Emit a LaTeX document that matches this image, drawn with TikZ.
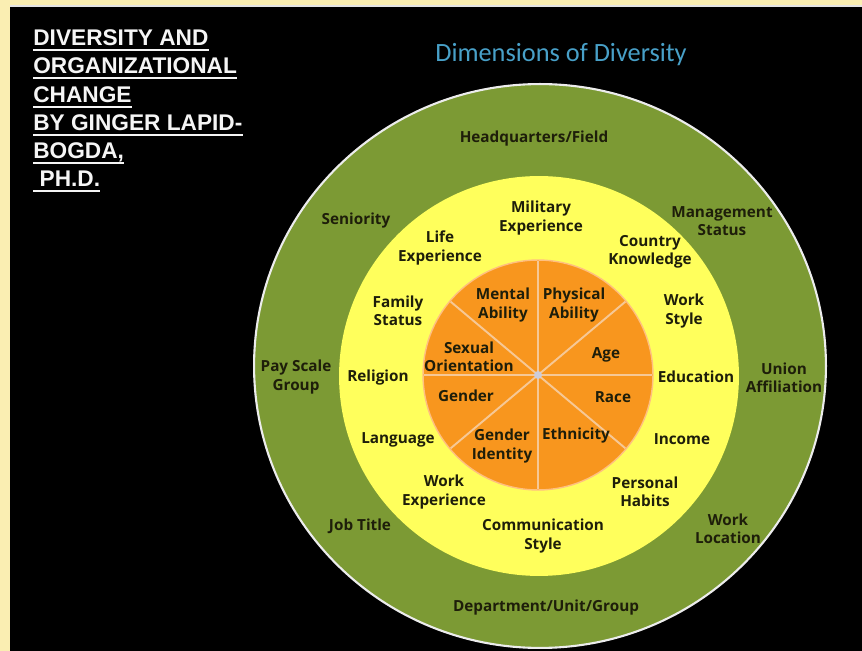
\documentclass[tikz,border=0pt]{standalone}
\usepackage{fontspec}
\usepackage{xcolor}
\usetikzlibrary{calc}

\newfontfamily\labelfont{Open Sans}
\newfontfamily\titlefont{Liberation Sans}
\newfontfamily\headfont{Carlito}

\definecolor{paper}{RGB}{250,238,178}
\definecolor{ringgreen}{RGB}{124,154,52}
\definecolor{ringyellow}{RGB}{255,255,92}
\definecolor{coreorange}{RGB}{248,150,30}
\definecolor{spokecol}{RGB}{246,200,150}
\definecolor{labeltext}{RGB}{30,30,10}
\definecolor{headblue}{RGB}{72,160,200}

\tikzset{
  dim/.style={font=\labelfont\bfseries\fontsize{8.7}{10.5}\selectfont, text=labeltext, align=center, inner sep=0pt},
  booktitle/.style={font=\titlefont\bfseries\fontsize{12.9}{14}\selectfont, text=white!92!gray, anchor=base west, inner sep=0pt},
  spoke/.style={draw=spokecol, line width=1.1pt},
}

\begin{document}
\begin{tikzpicture}[x=0.02cm, y=-0.02cm]
      \useasboundingbox (0,0) rectangle (862,651);
      \fill[paper] (0,0) rectangle (862,651);%枠
      \fill[black] (10,6) rectangle (862,651);%背景
      \draw[white!80!gray, line width=0.6pt] (10,6) -- (862,6);
      % 円
      \coordinate (rim) at (540,366);
      \coordinate (mid) at (539,376);
      \coordinate (core) at (538,375);
      \draw[fill=ringgreen, draw=white!85!gray, line width=1.2pt] (rim) ellipse [x radius=5.72cm, y radius=5.64cm];%外側
      \fill[ringyellow] (mid) circle (4cm);%中間
      \draw[fill=coreorange, draw=orange!50!white, line width=0.8pt] (core) circle (2.3cm);%中心
      \foreach \a in {0,40,90,140,180,220,270,320}
        \draw[spoke] (core) -- ++(\a:2.28cm);
      \fill[blue!15!gray!35!white] (core) circle (0.08cm);
      % 見出し
      \node[font=\headfont\fontsize{15}{18}\selectfont, text=headblue, inner sep=0pt] (head) at (561,55) {Dimensions of Diversity};
      \foreach \n/\y/\t in {t1/46/DIVERSITY AND, t2/74/ORGANIZATIONAL, t3/103/CHANGE,
                            t4/131/BY GINGER LAPID-, t5/159/{BOGDA,}, t6/187/{\ PH.D.}}{
        \node[booktitle] (\n) at (33,\y) {\t};
        \draw[white!92!gray, line width=1.1pt] ([yshift=-2.2pt]\n.base west) -- ([yshift=-2.2pt]\n.base east);
      }
      % 外側の輪
      \node[dim] (hq) at (534,139) {Headquarters/Field};
      \node[dim] (seniority) at (356,221) {Seniority};
      \node[dim] (mgmt) at (722,221) {Management\\Status};
      \node[dim] (payscale) at (296,377) {Pay Scale\\Group};
      \node[dim] (union) at (784,378) {Union\\Affiliation};
      \node[dim] (jobtitle) at (360,526) {Job Title};
      \node[dim] (workloc) at (728,529) {Work\\Location};
      \node[dim] (dept) at (546,608) {Department/Unit/Group};
      % 中間の輪
      \node[dim] (military) at (541,218) {Military\\Experience};
      \node[dim] (life) at (440,248) {Life\\Experience};
      \node[dim] (country) at (650,252) {Country\\Knowledge};
      \node[dim] (family) at (398,311) {Family\\Status};
      \node[dim] (workstyle) at (684,311) {Work\\Style};
      \node[dim] (religion) at (378,378) {Religion};
      \node[dim] (education) at (696,377) {Education};
      \node[dim] (language) at (398,440) {Language};
      \node[dim] (income) at (682,439) {Income};
      \node[dim] (workexp) at (444,492) {Work\\Experience};
      \node[dim] (habits) at (645,492) {Personal\\Habits};
      \node[dim] (comm) at (543,536) {Communication\\Style};
      % 中心
      \node[dim] (mental) at (503,305) {Mental\\Ability};
      \node[dim] (physical) at (574,305) {Physical\\Ability};
      \node[dim] (sexual) at (469,357) {Sexual\\Orientation};
      \node[dim] (age) at (606,355) {Age};
      \node[dim] (gender) at (466,396) {Gender};
      \node[dim] (race) at (613,397) {Race};
      \node[dim] (genderid) at (502,446) {Gender\\Identity};
      \node[dim] (ethnicity) at (576,436) {Ethnicity};
\end{tikzpicture}
\end{document}
